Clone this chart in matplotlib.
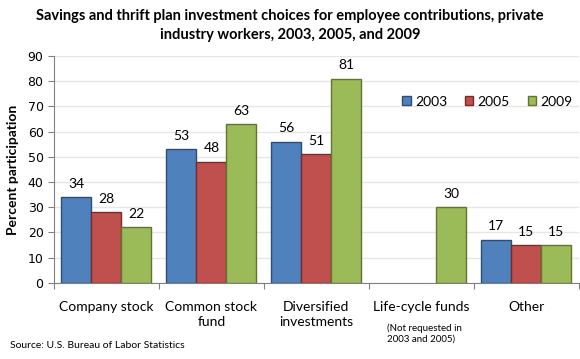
import matplotlib
matplotlib.use("Agg")
import matplotlib.pyplot as plt
import numpy as np

categories = ["Company stock", "Common stock\nfund", "Diversified\ninvestments", "Life-cycle funds", "Other"]
years = ["2003", "2005", "2009"]
v2003 = [34, 53, 56, None, 17]
v2005 = [28, 48, 51, None, 15]
v2009 = [22, 63, 81, 30, 15]
colors = ["#4F81BD", "#C0504D", "#9BBB59"]
edges = ["#2C4D75", "#772C2A", "#5F7530"]

plt.rcParams['font.family'] = ['Lato', 'DejaVu Sans']

fig = plt.figure(figsize=(5.8, 3.59), dpi=100)
ax = fig.add_axes([0.093, 0.212, 0.905, 0.632])

x = np.arange(len(categories))
w = 0.286
series = [v2003, v2005, v2009]
for i, (vals, c, ec, yr) in enumerate(zip(series, colors, edges, years)):
    xs = [xi + (i - 1) * w for xi, v in zip(x, vals) if v is not None]
    ys = [v for v in vals if v is not None]
    ax.bar(xs, ys, width=w, color=c, edgecolor=ec, linewidth=1.0, label=yr, zorder=3)
    for xx, yy in zip(xs, ys):
        ax.text(xx, yy + 3, str(yy), ha='center', va='bottom', fontsize=10, color='black', zorder=4)

ax.set_xlim(-0.5, len(categories) - 0.5)
ax.set_ylim(0, 90)
ax.set_yticks(range(0, 91, 10))
ax.tick_params(axis='y', labelsize=9, length=4, color='#808080')
for t in ax.get_yticklabels():
    t.set_family('DejaVu Sans')
ax.set_xticks(np.arange(-0.5, len(categories), 1.0))
ax.set_xticklabels([])
ax.tick_params(axis='x', length=4, color='#808080', direction='out')
for xi, lab in zip(x, categories):
    ax.text(xi, -7, lab, ha='center', va='top', fontsize=10, transform=ax.transData, linespacing=1.35)
ax.text(3 - 0.33, -16, "(Not requested in\n2003 and 2005)", ha='left', va='top', fontsize=7, linespacing=1.3)

ax.grid(axis='y', color='#E6E6E6', linewidth=1, zorder=0)
for s in ['top', 'right']:
    ax.spines[s].set_visible(False)
ax.spines['left'].set_color('#808080')
ax.spines['bottom'].set_color('#808080')

ax.set_ylabel("Percent participation", fontsize=10, fontweight='bold', labelpad=6)

ax.legend(loc='upper left', bbox_to_anchor=(0.64, 0.88), ncol=3, frameon=False, fontsize=10,
          handlelength=0.6, handleheight=0.6, handletextpad=0.3, columnspacing=1.3)

fig.text(0.5, 0.975, "Savings and thrift plan investment choices for employee contributions, private\nindustry workers, 2003, 2005, and 2009",
         ha='center', va='top', fontsize=10.5, fontweight='bold', linespacing=1.5)
fig.text(0.017, 0.025, "Source: U.S. Bureau of Labor Statistics", ha='left', va='bottom', fontsize=7.5)

fig.savefig("out.png", dpi=100)
